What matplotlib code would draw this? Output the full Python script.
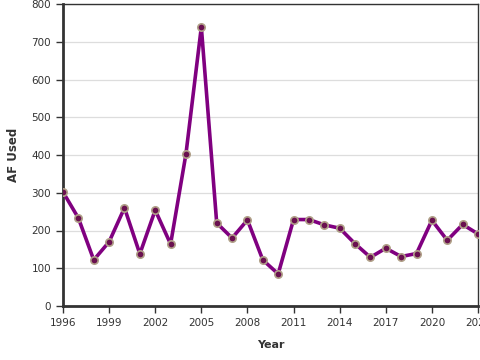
import matplotlib
matplotlib.use("Agg")
import matplotlib.pyplot as plt

years = list(range(1996, 2024))
af_used = [302, 233, 122, 170, 260, 138, 254, 164, 403, 739,
           220, 180, 228, 122, 85, 229, 229, 215, 206, 165,
           129, 153, 131, 139, 227, 174, 216, 191]
x_ticks = [1996, 1999, 2002, 2005, 2008, 2011, 2014, 2017, 2020, 2023]
y_ticks = [0, 100, 200, 300, 400, 500, 600, 700, 800]

fig = plt.figure(figsize=(4.8, 3.6), dpi=100)
ax = fig.add_axes([63 / 480, 54 / 360, 415 / 480, 302 / 360])

ax.plot(years, af_used, color="#800080", lw=2.6, zorder=3)
ax.scatter(years, af_used, s=28, color="#6a1050", edgecolor="#b0a088",
           linewidth=1.2, zorder=4)

ax.set_xlim(1996, 2023)
ax.set_ylim(0, 800)
ax.set_xticks(x_ticks)
ax.set_yticks(y_ticks)
ax.tick_params(labelsize=7.5, colors="#333333", length=5, width=1)
ax.yaxis.grid(True, color="#dddddd", lw=0.9)
ax.set_axisbelow(True)

for side in ["top", "right"]:
    ax.spines[side].set_color("#333333")
    ax.spines[side].set_linewidth(1)
for side in ["left", "bottom"]:
    ax.spines[side].set_color("#333333")
    ax.spines[side].set_linewidth(2)

ax.set_xlabel("Year", fontsize=8, fontweight="bold", color="#333333", labelpad=9)
ax.set_ylabel("AF Used", fontsize=8.5, fontweight="bold", color="#333333", labelpad=8)

fig.savefig("out.png", dpi=100)
